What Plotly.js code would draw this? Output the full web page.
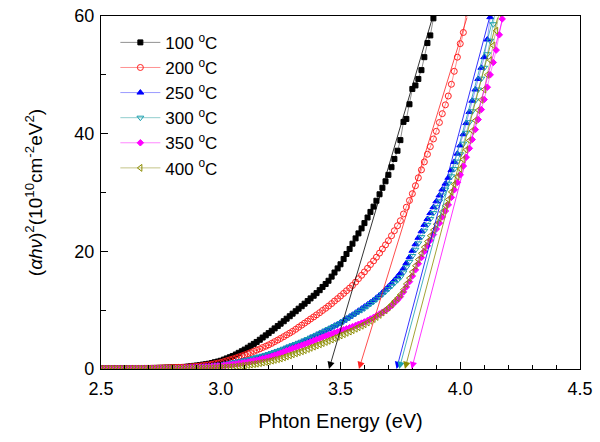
<!DOCTYPE html>
<html>
<head>
<meta charset="utf-8">
<script src="https://cdn.plot.ly/plotly-3.0.1.min.js"></script>
<style>
  body { margin: 0; background: #fff; }
  #plot { width: 600px; height: 442px; }
</style>
</head>
<body>
<div id="plot"></div>
<script>
// photon energy grid (eV)
var energy = [
  2.500,2.513,2.525,2.538,2.550,2.563,2.575,2.588,2.600,2.613,
  2.625,2.638,2.650,2.663,2.675,2.688,2.700,2.713,2.725,2.738,
  2.750,2.763,2.775,2.788,2.800,2.813,2.825,2.838,2.850,2.863,
  2.875,2.888,2.900,2.913,2.925,2.938,2.950,2.963,2.975,2.988,
  3.000,3.013,3.025,3.038,3.050,3.063,3.075,3.088,3.100,3.113,
  3.125,3.138,3.150,3.163,3.175,3.188,3.200,3.213,3.225,3.238,
  3.250,3.263,3.275,3.288,3.300,3.313,3.325,3.338,3.350,3.363,
  3.375,3.388,3.400,3.413,3.425,3.438,3.450,3.463,3.475,3.488,
  3.500,3.513,3.525,3.538,3.550,3.563,3.575,3.588,3.600,3.613,
  3.625,3.638,3.650,3.663,3.675,3.688,3.700,3.713,3.725,3.738,
  3.750,3.763,3.775,3.788,3.800,3.813,3.825,3.838,3.850,3.863,
  3.875,3.888,3.900,3.913,3.925,3.938,3.950,3.963,3.975,3.988,
  4.000,4.013,4.025,4.038,4.050,4.063,4.075,4.088,4.100,4.113,
  4.125,4.138,4.150,4.163,4.175,4.188,4.200
];

// (alpha h nu)^2 in 1e10 cm^-2 eV^2
var t100 = [
  0.1,0.1,0.1,0.1,0.1,0.1,0.1,0.1,0.1,0.1,
  0.12,0.12,0.13,0.14,0.15,0.15,0.16,0.17,0.18,0.19,
  0.2,0.22,0.24,0.26,0.28,0.3,0.32,0.34,0.36,0.42,
  0.48,0.54,0.6,0.67,0.75,0.82,0.9,1.02,1.15,1.27,
  1.4,1.6,1.8,2.0,2.2,2.47,2.75,3.02,3.3,3.62,
  3.95,4.27,4.6,4.97,5.35,5.72,6.1,6.5,6.9,7.3,
  7.7,8.12,8.55,8.97,9.4,9.82,10.25,10.67,11.1,11.55,
  12.0,12.45,12.9,13.4,13.95,14.45,15.0,15.7,16.4,17.1,
  17.8,18.7,19.55,20.4,21.3,22.2,23.05,23.9,24.8,25.75,
  26.7,27.6,28.6,29.7,30.8,31.9,33.0,34.3,35.7,37.1,
  38.9,42.0,42.5,45.0,47.6,48.2,49.3,50.8,53.0,55.4,
  56.7,59.6
];
var t200 = [
  0.05,0.05,0.05,0.05,0.05,0.05,0.05,0.05,0.05,0.05,
  0.08,0.08,0.1,0.1,0.1,0.12,0.12,0.14,0.14,0.16,
  0.18,0.2,0.2,0.22,0.24,0.26,0.28,0.29,0.3,0.33,
  0.37,0.41,0.45,0.51,0.57,0.64,0.7,0.8,0.9,1.0,
  1.1,1.25,1.4,1.55,1.7,1.87,2.05,2.22,2.4,2.6,
  2.8,3.0,3.2,3.42,3.65,3.87,4.1,4.37,4.65,4.92,
  5.2,5.5,5.8,6.1,6.4,6.75,7.1,7.45,7.8,8.15,
  8.5,8.85,9.2,9.57,9.95,10.32,10.7,11.12,11.55,11.97,
  12.4,12.85,13.3,13.75,14.2,14.77,15.35,15.92,16.5,17.12,
  17.75,18.37,19.0,19.7,20.4,21.1,21.8,22.65,23.5,24.35,
  25.2,26.35,27.5,28.65,29.8,31.15,32.5,33.85,35.2,36.5,
  37.8,39.1,40.4,41.9,43.4,44.9,46.4,48.4,50.6,53.0,
  55.3,57.2,60.5
];
var t250 = [
  0.03,0.03,0.03,0.03,0.03,0.03,0.03,0.03,0.03,0.03,
  0.05,0.05,0.06,0.06,0.07,0.07,0.08,0.08,0.09,0.09,
  0.1,0.11,0.12,0.13,0.14,0.15,0.17,0.18,0.2,0.22,
  0.25,0.27,0.3,0.34,0.37,0.41,0.45,0.5,0.55,0.6,
  0.65,0.74,0.82,0.91,1.0,1.1,1.2,1.3,1.4,1.52,
  1.65,1.77,1.9,2.05,2.2,2.35,2.5,2.67,2.85,3.02,
  3.2,3.4,3.6,3.8,4.0,4.2,4.4,4.6,4.8,5.05,
  5.3,5.55,5.8,6.05,6.3,6.55,6.8,7.07,7.35,7.62,
  7.9,8.22,8.55,8.87,9.2,9.55,9.9,10.25,10.6,10.95,
  11.3,11.7,12.1,12.55,13.0,13.5,14.0,14.55,15.1,15.7,
  16.3,17.1,18.0,19.0,20.1,21.2,22.3,23.4,24.5,25.5,
  26.5,27.5,28.5,29.5,30.5,31.5,32.5,33.8,35.2,36.6,
  38.0,39.9,41.8,43.7,45.6,47.5,49.3,51.2,53.0,56.0,
  59.8
];
var t300 = [
  0.03,0.03,0.03,0.03,0.03,0.03,0.03,0.03,0.03,0.03,
  0.05,0.05,0.06,0.06,0.07,0.07,0.08,0.08,0.09,0.09,
  0.1,0.11,0.12,0.13,0.14,0.15,0.17,0.18,0.2,0.22,
  0.25,0.28,0.31,0.35,0.38,0.42,0.47,0.52,0.57,0.63,
  0.7,0.78,0.86,0.95,1.05,1.15,1.25,1.35,1.45,1.57,
  1.7,1.85,2.0,2.12,2.25,2.4,2.55,2.72,2.9,3.07,
  3.25,3.45,3.65,3.85,4.05,4.25,4.45,4.65,4.87,5.1,
  5.33,5.56,5.8,6.05,6.3,6.55,6.8,7.05,7.3,7.55,
  7.8,8.12,8.45,8.77,9.1,9.4,9.7,10.0,10.3,10.67,
  11.05,11.45,11.85,12.27,12.7,13.15,13.6,14.1,14.6,15.1,
  15.6,16.4,17.3,18.2,19.2,20.27,21.35,22.42,23.5,24.5,
  25.5,26.5,27.5,28.5,29.5,30.5,31.5,32.75,34.0,35.25,
  36.5,38.3,40.15,41.95,43.8,45.65,47.5,49.35,51.2,53.5,
  55.8,58.6,61.5
];
var t350 = [
  0.03,0.03,0.03,0.03,0.03,0.03,0.03,0.03,0.03,0.03,
  0.04,0.04,0.05,0.05,0.06,0.06,0.07,0.07,0.08,0.08,
  0.09,0.09,0.1,0.1,0.11,0.12,0.13,0.14,0.15,0.17,
  0.2,0.22,0.25,0.28,0.31,0.35,0.38,0.42,0.46,0.5,
  0.55,0.61,0.67,0.73,0.8,0.87,0.95,1.02,1.1,1.2,
  1.3,1.4,1.5,1.62,1.75,1.87,2.0,2.17,2.35,2.52,
  2.7,2.9,3.1,3.3,3.5,3.67,3.85,4.02,4.2,4.4,
  4.6,4.8,5.0,5.2,5.4,5.6,5.8,5.97,6.15,6.32,
  6.5,6.67,6.85,7.02,7.2,7.4,7.6,7.8,8.0,8.25,
  8.5,8.77,9.05,9.35,9.65,9.97,10.3,10.75,11.25,11.75,
  12.3,13.1,13.95,14.85,15.8,16.85,17.9,18.95,20.0,20.95,
  21.9,22.85,23.8,24.8,25.85,26.85,27.9,29.17,30.45,31.72,
  33.0,34.5,36.0,37.5,39.0,40.7,42.4,44.1,45.8,47.9,
  50.0,52.1,54.2,56.8,59.5
];
var t400 = [
  0.02,0.02,0.02,0.02,0.02,0.02,0.02,0.02,0.02,0.02,
  0.02,0.03,0.03,0.03,0.04,0.04,0.04,0.05,0.05,0.05,
  0.05,0.06,0.06,0.06,0.07,0.07,0.07,0.08,0.08,0.08,
  0.09,0.09,0.1,0.11,0.12,0.13,0.14,0.16,0.17,0.19,
  0.2,0.24,0.27,0.31,0.35,0.41,0.47,0.54,0.6,0.67,
  0.75,0.82,0.9,1.0,1.1,1.2,1.3,1.42,1.55,1.67,
  1.8,1.97,2.15,2.32,2.5,2.67,2.85,3.02,3.2,3.4,
  3.6,3.8,4.0,4.2,4.4,4.6,4.8,5.02,5.25,5.47,
  5.7,5.92,6.15,6.37,6.6,6.85,7.1,7.35,7.6,7.9,
  8.2,8.5,8.85,9.2,9.6,10.0,10.45,10.95,11.5,12.05,
  12.65,13.5,14.45,15.45,16.5,17.55,18.6,19.65,20.7,21.67,
  22.65,23.62,24.6,25.65,26.7,27.75,28.8,30.1,31.4,32.7,
  34.0,35.6,37.25,38.85,40.5,42.25,44.0,45.75,47.5,50.0,
  52.5,55.0,57.5,60.5
];

// linear extrapolation of each edge: x-intercept and where it leaves the top (y=60)
var fitIntercept = [3.452, 3.577, 3.734, 3.745, 3.797, 3.769];
var fitTopX      = [3.886, 4.030, 4.124, 4.140, 4.180, 4.158];
var fitTopY      = [60, 60, 60, 60, 60, 60];

var names   = ["100 <sup>o</sup>C", "200 <sup>o</sup>C", "250 <sup>o</sup>C",
               "300 <sup>o</sup>C", "350 <sup>o</sup>C", "400 <sup>o</sup>C"];
var series  = [t100, t200, t250, t300, t350, t400];
var colors  = ["#000000", "#ff2020", "#0000ff", "#1aa0b0", "#ff00ff", "#8c8c00"];
var lineCol = ["rgba(0,0,0,0.55)", "rgba(255,0,0,0.55)", "rgba(0,0,255,0.5)",
               "rgba(0,140,140,0.55)", "rgba(255,0,255,0.6)", "rgba(128,128,0,0.6)"];
var symbols = ["square", "circle-open", "triangle-up", "triangle-down-open", "diamond", "triangle-left-open"];
var sizes   = [5, 6, 6, 6, 5, 6];

var data = [];
for (var i = 0; i < series.length; i++) {
  data.push({
    x: energy.slice(0, series[i].length),
    y: series[i],
    name: names[i],
    type: "scatter",
    mode: "lines+markers",
    line: { color: lineCol[i], width: 0.8 },
    marker: { symbol: symbols[i], size: sizes[i], color: colors[i],
              line: { color: colors[i], width: 1 } }
  });
}

// tangent lines drawn as arrows down to the energy axis
var arrows = [];
for (var k = 0; k < fitIntercept.length; k++) {
  arrows.push({
    x: fitIntercept[k], y: 0, xref: "x", yref: "y",
    ax: fitTopX[k], ay: fitTopY[k], axref: "x", ayref: "y",
    text: "", showarrow: true, arrowhead: 2, arrowsize: 1.8, arrowwidth: 0.8,
    arrowcolor: colors[k]
  });
}

var font = { family: "Arial, 'Liberation Sans', sans-serif", size: 18, color: "#000" };

var layout = {
  width: 600, height: 442,
  margin: { l: 101, r: 20, t: 16, b: 73 },
  paper_bgcolor: "#fff", plot_bgcolor: "#fff",
  font: font,
  showlegend: true,
  legend: { x: 0.03, y: 0.975, xanchor: "left", yanchor: "top",
            bgcolor: "rgba(0,0,0,0)", font: { family: font.family, size: 17 },
            itemwidth: 40, tracegroupgap: 0 },
  xaxis: {
    range: [2.5, 4.5], dtick: 0.5, tick0: 2.5,
    tickformat: ".1f", ticklabelstandoff: 3,
    ticks: "inside", ticklen: 7, tickcolor: "#000", tickwidth: 1,
    minor: { dtick: 0.1, ticks: "inside", ticklen: 4, tickcolor: "#000" },
    showline: true, linecolor: "#000", linewidth: 1.2, mirror: true,
    showgrid: false, zeroline: false,
    title: { text: "Phton Energy (eV)", font: { family: font.family, size: 20 }, standoff: 16 }
  },
  yaxis: {
    range: [0, 60], dtick: 20, ticklabelstandoff: 2,
    ticks: "inside", ticklen: 7, tickcolor: "#000", tickwidth: 1,
    minor: { dtick: 10, ticks: "inside", ticklen: 5, tickcolor: "#000" },
    showline: true, linecolor: "#000", linewidth: 1.2, mirror: true,
    showgrid: false, zeroline: false,
    title: { text: "(<i>αhν</i>)<sup>2</sup>(10<sup>10</sup>cm<sup>-2</sup>eV<sup>2</sup>)",
             font: { family: font.family, size: 19 }, standoff: 26 }
  },
  annotations: arrows
};

Plotly.newPlot("plot", data, layout, { displayModeBar: false, staticPlot: true });
</script>
</body>
</html>
